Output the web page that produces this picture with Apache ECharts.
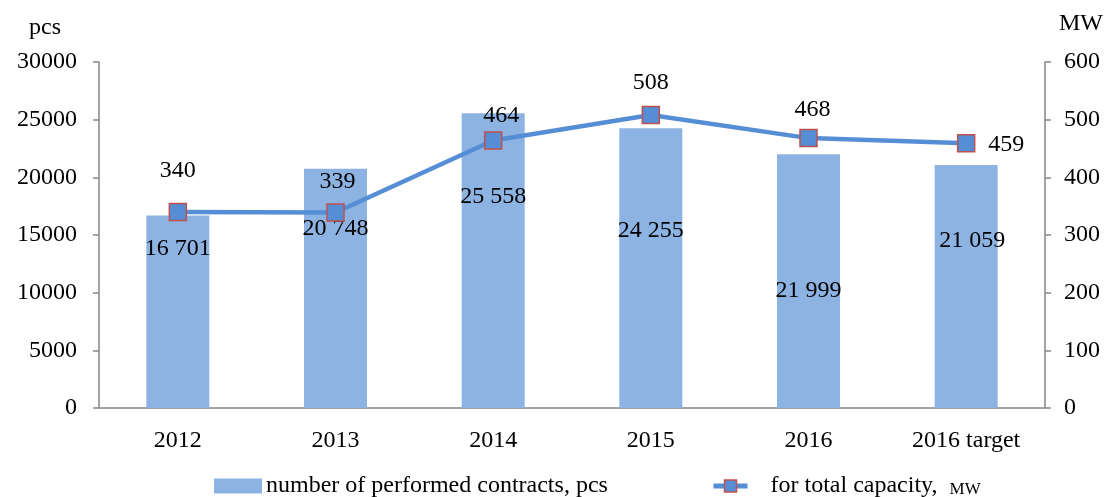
<!DOCTYPE html>
<html><head><meta charset="utf-8">
<script src="https://cdn.jsdelivr.net/npm/echarts@6/dist/echarts.min.js"></script>
<style>html,body{margin:0;padding:0;background:#fff}#c{width:1116px;height:497px}</style>
</head><body><div id="c"></div>
<script>
const categories = ['2012','2013','2014','2015','2016','2016 target'];
const contracts = [16701, 20748, 25558, 24255, 21999, 21059];
const capacity = [340, 339, 464, 508, 468, 459];
const leftTicks = [0, 5000, 10000, 15000, 20000, 25000, 30000];
const rightTicks = [0, 100, 200, 300, 400, 500, 600];

// label placement (style, not data)
const barLabelY = [33, 60, 83, 102, 136, 76];
const barLabelX = [0, 0, 0, 0, 0, 6];
const lineLabelOff = [[0,-41],[2,-31],[8,-25],[0,-32],[4,-28],[40,1]];

const F = 'Liberation Serif, Times New Roman, serif';
const FS = 24;
const fmt = v => String(v).replace(/\B(?=(\d{3})+(?!\d))/g, ' ');

const chart = echarts.init(document.getElementById('c'));
chart.setOption({
  animation: false,
  textStyle: {fontFamily: F},
  grid: {left: 99, right: 71, top: 62, bottom: 89},
  legend: [{
    top: 474, left: 214, itemGap: 0, padding: 0,
    itemWidth: 48, itemHeight: 15,
    textStyle: {fontFamily: F, fontSize: FS, color: '#000', padding: [0,0,0,-1]},
    data: [{name: 'number of performed contracts, pcs', icon: 'rect', itemStyle: {color: '#8DB3E2'}}]
  }, {
    top: 474, left: 711, itemGap: 0, padding: 0,
    itemWidth: 34, itemHeight: 15,
    textStyle: {fontFamily: F, fontSize: FS, color: '#000', padding: [0,0,0,18],
      rich: {a: {fontFamily: F, fontSize: FS, color: '#000'}, b: {fontFamily: F, fontSize: 17, color: '#000', padding: [8,0,0,12]}}},
    formatter: () => '{a|for total capacity,}{b|MW}',
    data: [{name: 'for total capacity, MW', lineStyle: {width: 5, color: '#558ED5'}, itemStyle: {color: '#558ED5', borderColor: '#C0504D', borderWidth: 1.5}}]
  }],
  xAxis: {
    type: 'category', data: categories,
    axisLine: {lineStyle: {color: '#868686', width: 1.5}},
    axisTick: {alignWithLabel: false, length: 6, lineStyle: {color: '#868686', width: 1.5}},
    axisLabel: {fontFamily: F, fontSize: FS, color: '#000', margin: 21}
  },
  yAxis: [{
    type: 'value', min: 0, max: 30000, interval: 5000,
    name: 'pcs', nameLocation: 'end', nameGap: 22,
    nameTextStyle: {fontFamily: F, fontSize: FS, color: '#000', align: 'center', padding: [0, 0, 0, -108]},
    axisLine: {show: true, lineStyle: {color: '#868686', width: 1.5}},
    axisTick: {show: true, length: 6, lineStyle: {color: '#868686', width: 1.5}},
    splitLine: {show: false},
    axisLabel: {fontFamily: F, fontSize: FS, color: '#000', margin: 22, formatter: v => String(v)}
  }, {
    type: 'value', min: 0, max: 600, interval: 100, position: 'right',
    name: 'MW', nameLocation: 'end', nameGap: 26,
    nameTextStyle: {fontFamily: F, fontSize: FS, color: '#000', align: 'center', padding: [0, -72, 0, 0]},
    axisLine: {show: true, lineStyle: {color: '#868686', width: 1.5}},
    axisTick: {show: true, length: 6, lineStyle: {color: '#868686', width: 1.5}},
    splitLine: {show: false},
    axisLabel: {fontFamily: F, fontSize: FS, color: '#000', margin: 19, formatter: v => String(v)}
  }],
  series: [{
    name: 'number of performed contracts, pcs', type: 'bar', barWidth: 63,
    itemStyle: {color: '#8DB3E2'},
    data: contracts.map((v, i) => ({
      value: v,
      label: {show: true, position: [31.5 + barLabelX[i], barLabelY[i]], align: 'center', verticalAlign: 'middle',
        formatter: p => fmt(p.value), fontFamily: F, fontSize: FS, color: '#000'}
    }))
  }, {
    name: 'for total capacity, MW', type: 'line', yAxisIndex: 1,
    symbol: 'rect', symbolSize: 17,
    lineStyle: {color: '#558ED5', width: 4.5},
    itemStyle: {color: '#558ED5', borderColor: '#C0504D', borderWidth: 1.5},
    data: capacity.map((v, i) => ({
      value: v,
      label: {show: true, position: 'inside', offset: lineLabelOff[i], fontFamily: F, fontSize: FS, color: '#000'}
    }))
  }]
});
</script></body></html>
